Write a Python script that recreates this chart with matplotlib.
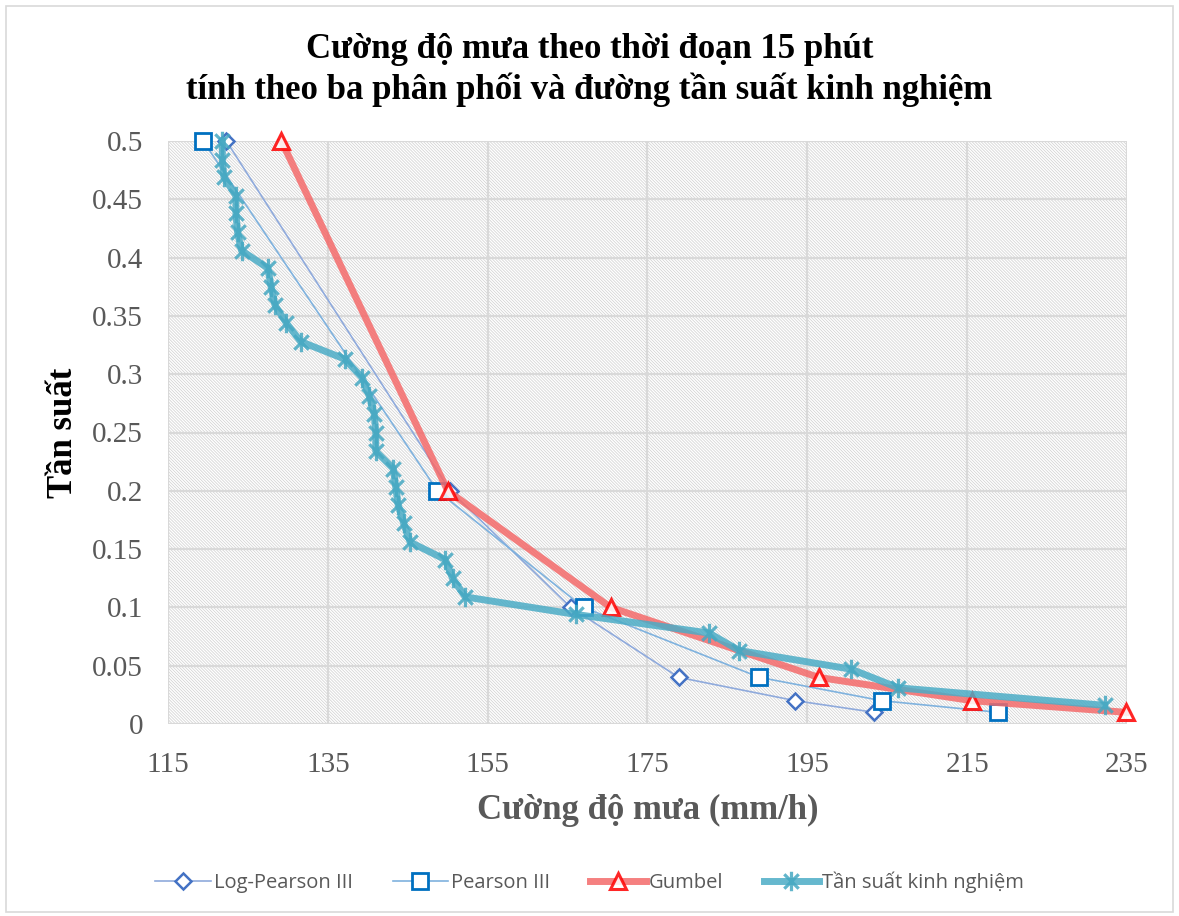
import matplotlib
matplotlib.use("Agg")
import matplotlib.pyplot as plt
from matplotlib.patches import Rectangle
from matplotlib.path import Path

# Return periods expressed as exceedance frequency
p_dist = [0.5, 0.2, 0.1, 0.04, 0.02, 0.01]

# Rainfall intensity (mm/h) for each fitted distribution
log_pearson = [122.3, 150.3, 165.4, 178.9, 193.5, 203.4]
pearson = [119.4, 148.7, 167.0, 189.0, 204.3, 218.9]
gumbel = [129.2, 150.0, 170.4, 196.4, 215.6, 234.9]

# Empirical frequency curve
p_emp = [0.500, 0.484, 0.469, 0.453, 0.438, 0.422, 0.406, 0.391, 0.375, 0.359,
         0.344, 0.328, 0.313, 0.297, 0.281, 0.266, 0.250, 0.234, 0.219, 0.203,
         0.188, 0.172, 0.156, 0.141, 0.125, 0.109, 0.094, 0.078, 0.063, 0.047,
         0.031, 0.016]
x_emp = [121.8, 121.8, 122.0, 123.5, 123.5, 123.7, 124.2, 127.5, 127.9, 128.4,
         129.8, 131.6, 137.1, 139.3, 140.2, 140.8, 141.0, 141.0, 143.2, 143.5,
         143.8, 144.5, 145.3, 149.7, 150.6, 152.2, 166.0, 182.7, 186.5, 200.5,
         206.4, 232.2]

x_ticks = [115, 135, 155, 175, 195, 215, 235]
y_ticks = [0, 0.05, 0.1, 0.15, 0.2, 0.25, 0.3, 0.35, 0.4, 0.45, 0.5]
y_tick_labels = ["0", "0.05", "0.1", "0.15", "0.2", "0.25", "0.3", "0.35", "0.4", "0.45", "0.5"]

W, H = 1179, 916
fig = plt.figure(figsize=(W / 100, H / 100), dpi=100)
fig.patch.set_facecolor("white")
fig.patches.append(Rectangle((6 / W, 4 / H), (W - 12) / W, (H - 10) / H,
                             transform=fig.transFigure, fill=False,
                             edgecolor="#d9d9d9", linewidth=1.2))

ax = fig.add_axes([168 / W, 1 - 724 / H, (1127 - 168) / W, (724 - 141) / H])
ax.set_xlim(115, 235)
ax.set_ylim(0, 0.5)

# Diagonal hatched plot background
plt.rcParams["hatch.linewidth"] = 0.55
ax.add_patch(Rectangle((0, 0), 1, 1, transform=ax.transAxes, facecolor="white",
                       edgecolor="#d2d2d2", hatch="\\" * 11, linewidth=0, zorder=0))

ax.set_xticks(x_ticks)
ax.set_yticks(y_ticks)
ax.set_yticklabels(y_tick_labels)
ax.grid(True, color="#d9d9d9", linewidth=1.6, zorder=1)
ax.set_axisbelow(True)
for s in ax.spines.values():
    s.set_visible(False)
ax.tick_params(length=0, labelsize=21, labelcolor="#595959")
ax.tick_params(axis="x", pad=20)
ax.tick_params(axis="y", pad=18)
for lab in ax.get_xticklabels() + ax.get_yticklabels():
    lab.set_fontfamily("Liberation Serif")

# Asterisk marker: an x with a vertical stroke
star = Path([(-1, -1), (1, 1), (-1, 1), (1, -1), (0, -1.35), (0, 1.35)],
            [Path.MOVETO, Path.LINETO, Path.MOVETO, Path.LINETO, Path.MOVETO, Path.LINETO])

ax.plot(log_pearson, p_dist, color="#8FAADC", linewidth=1.2, marker="D",
        markersize=8, markerfacecolor="white", markeredgecolor="#4472C4",
        markeredgewidth=1.8, label="Log-Pearson III", clip_on=False, zorder=3)
ax.plot(pearson, p_dist, color="#7FB2DE", linewidth=1.2, marker="s",
        markersize=11, markerfacecolor="white", markeredgecolor="#0070C0",
        markeredgewidth=2.0, label="Pearson III", clip_on=False, zorder=4)
ax.plot(gumbel, p_dist, color="#F46A6A", alpha=0.85, linewidth=5.0, marker="^",
        markersize=12, markerfacecolor="white", markeredgecolor="#FF0000",
        markeredgewidth=2.2, label="Gumbel", clip_on=False, zorder=5)
ax.plot(x_emp, p_emp, color="#4BACC6", alpha=0.85, linewidth=5.0, marker=star,
        markersize=14, markerfacecolor="none", markeredgecolor="#45A8C2",
        markeredgewidth=2.3, label="Tần suất kinh nghiệm", clip_on=False, zorder=6)

fig.text(0.5, 1 - 50 / H, "Cường độ mưa theo thời đoạn 15 phút",
         ha="center", va="center", fontsize=25, fontweight="bold",
         family="Liberation Serif", color="black")
fig.text(0.5, 1 - 90 / H, "tính theo ba phân phối và đường tần suất kinh nghiệm",
         ha="center", va="center", fontsize=25, fontweight="bold",
         family="Liberation Serif", color="black")

ax.set_xlabel("Cường độ mưa (mm/h)", fontsize=25, fontweight="bold",
              family="Liberation Serif", color="#595959", labelpad=12)
ax.set_ylabel("Tần suất", fontsize=25, fontweight="bold",
              family="Liberation Serif", color="black", labelpad=9)

leg = fig.legend(loc="center", bbox_to_anchor=(0.5, 1 - 882 / H), ncol=4,
                 frameon=False, prop={"family": "Open Sans", "size": 14.5},
                 handlelength=2.75, columnspacing=2.0, handletextpad=0.15)
for t in leg.get_texts():
    t.set_color("#595959")

fig.savefig("out.png", dpi=100, facecolor="white")
